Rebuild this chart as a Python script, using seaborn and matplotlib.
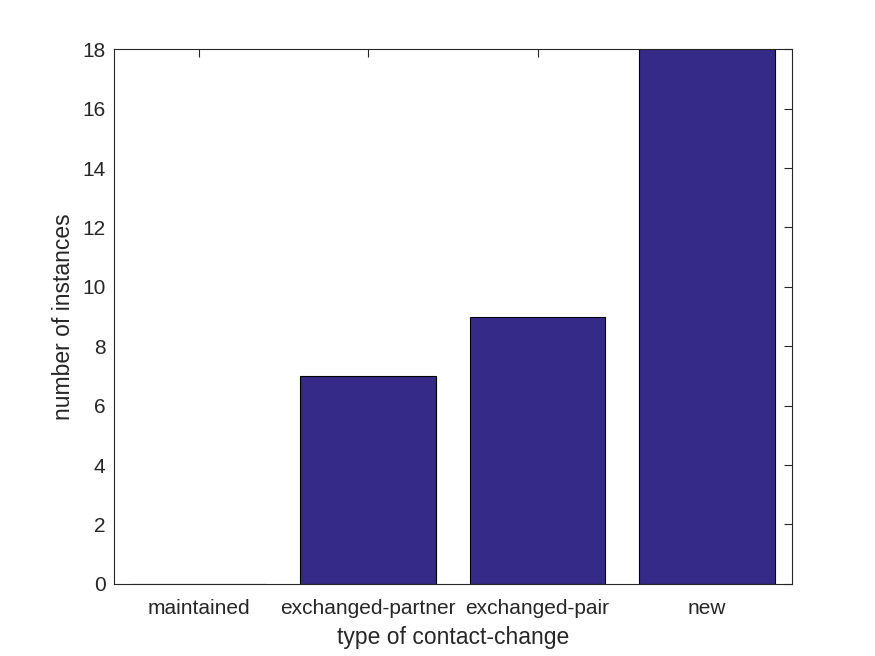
import seaborn as sns
import matplotlib.pyplot as plt
import pandas as pd

# contact-change counts
categories = ['maintained', 'exchanged-partner', 'exchanged-pair', 'new']
counts = [0, 7, 9, 18]

df = pd.DataFrame({'type': categories, 'count': counts})

sns.set_style('white')
plt.rcParams['font.family'] = ['Liberation Sans', 'DejaVu Sans']

fig = plt.figure(figsize=(8.75, 6.56), dpi=100)
ax = fig.add_axes([0.13, 0.11, 0.775, 0.815])

sns.barplot(data=df, x='type', y='count', color='#352a87', saturation=1,
            width=0.8, edgecolor='black', linewidth=0.8, ax=ax)

ax.set_xlim(-0.5, 3.5)
ax.set_ylim(0, 18)
ax.set_yticks(range(0, 19, 2))

axis_col = '#262626'
for s in ax.spines.values():
    s.set_visible(True)
    s.set_color(axis_col)
    s.set_linewidth(0.8)
ax.tick_params(direction='in', top=True, right=True, length=6, width=0.8,
               colors=axis_col, labelsize=15, labelcolor=axis_col)
ax.tick_params(axis='x', pad=11)
ax.tick_params(axis='y', pad=6)

ax.set_xlabel('type of contact-change', fontsize=16.5, color=axis_col, labelpad=6)
ax.set_ylabel('number of instances', fontsize=16.5, color=axis_col, labelpad=5)

plt.savefig('out.png', dpi=100)
plt.close()
